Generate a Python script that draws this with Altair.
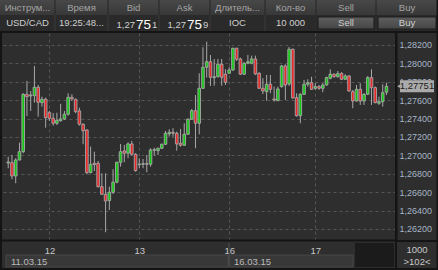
import altair as alt
import pandas as pd

# ---------------- data ----------------
OPEN = [1.26917, 1.26921, 1.26776, 1.26950, 1.27040, 1.27664, 1.27646, 1.27649, 1.27740, 1.27573,
        1.27610, 1.27464, 1.27403, 1.27349, 1.27377, 1.27396, 1.27447, 1.27631, 1.27610, 1.27483,
        1.27338, 1.27276, 1.26812, 1.26914, 1.26914, 1.26660, 1.26577, 1.26508, 1.26599, 1.26708,
        1.26925, 1.27048, 1.27023, 1.27124, 1.27012, 1.26899, 1.26903, 1.26910, 1.26903, 1.27055,
        1.27051, 1.27077, 1.27121, 1.27233, 1.27251, 1.27240, 1.27132, 1.27110, 1.27229, 1.27392,
        1.27486, 1.27349, 1.27729, 1.27958, 1.28018, 1.27845, 1.27855, 1.27990, 1.27882, 1.27892,
        1.27928, 1.28164, 1.28048, 1.27882, 1.28001, 1.28001, 1.28048, 1.27892, 1.27729, 1.27692,
        1.27773, 1.27613, 1.27594, 1.27747, 1.27972, 1.27776, 1.28153, 1.27627, 1.27431, 1.27664,
        1.27773, 1.27790, 1.27729, 1.27747, 1.27729, 1.27765, 1.27838, 1.27882, 1.27855, 1.27892,
        1.27827, 1.27863, 1.27692, 1.27591, 1.27718, 1.27591, 1.27664, 1.27845, 1.27736, 1.27566,
        1.27584, 1.27686]
HIGH = [1.26986, 1.27004, 1.26968, 1.27138, 1.27675, 1.27809, 1.27700, 1.27972, 1.27765, 1.27638,
        1.27627, 1.27483, 1.27461, 1.27464, 1.27559, 1.27483, 1.27675, 1.27664, 1.27615, 1.27518,
        1.27349, 1.27284, 1.27095, 1.27040, 1.26939, 1.26805, 1.26805, 1.26660, 1.26849, 1.26931,
        1.27124, 1.27113, 1.27142, 1.27157, 1.27023, 1.26968, 1.26961, 1.27004, 1.27077, 1.27084,
        1.27084, 1.27127, 1.27265, 1.27284, 1.27295, 1.27258, 1.27287, 1.27349, 1.27403, 1.27504,
        1.27656, 1.27892, 1.28175, 1.28236, 1.28091, 1.28048, 1.28048, 1.28048, 1.27936, 1.27958,
        1.28170, 1.28170, 1.28062, 1.28012, 1.28091, 1.28084, 1.28084, 1.27903, 1.27838, 1.27874,
        1.27874, 1.27747, 1.27747, 1.27983, 1.27990, 1.28178, 1.28162, 1.27675, 1.27675, 1.27820,
        1.27827, 1.27855, 1.27784, 1.27765, 1.27784, 1.27855, 1.27936, 1.27892, 1.27917, 1.27903,
        1.27882, 1.27874, 1.27711, 1.27765, 1.27784, 1.27675, 1.27863, 1.27936, 1.27747, 1.27638,
        1.27773, 1.27790]
LOW = [1.26860, 1.26740, 1.26697, 1.26945, 1.27023, 1.27428, 1.27483, 1.27573, 1.27421, 1.27529,
       1.27301, 1.27374, 1.27323, 1.27330, 1.27366, 1.27385, 1.27431, 1.27594, 1.27458, 1.27323,
       1.27121, 1.26795, 1.26805, 1.26830, 1.26649, 1.26570, 1.26164, 1.26406, 1.26580, 1.26697,
       1.26877, 1.26925, 1.26968, 1.26997, 1.26823, 1.26860, 1.26860, 1.26816, 1.26877, 1.26997,
       1.27004, 1.27070, 1.27113, 1.27203, 1.27203, 1.27051, 1.27095, 1.27102, 1.27222, 1.27385,
       1.27077, 1.27229, 1.27722, 1.27845, 1.27754, 1.27758, 1.27845, 1.27758, 1.27765, 1.27885,
       1.27917, 1.28026, 1.27874, 1.27874, 1.27990, 1.27990, 1.27874, 1.27722, 1.27667, 1.27594,
       1.27675, 1.27584, 1.27591, 1.27736, 1.27602, 1.27754, 1.27618, 1.27421, 1.27349, 1.27656,
       1.27747, 1.27711, 1.27711, 1.27711, 1.27686, 1.27758, 1.27827, 1.27845, 1.27845, 1.27820,
       1.27820, 1.27692, 1.27512, 1.27584, 1.27548, 1.27548, 1.27656, 1.27548, 1.27566, 1.27548,
       1.27529, 1.27656]
CLOSE = [1.26928, 1.26776, 1.26950, 1.27040, 1.27664, 1.27638, 1.27656, 1.27740, 1.27577, 1.27610,
         1.27410, 1.27403, 1.27349, 1.27381, 1.27396, 1.27447, 1.27631, 1.27613, 1.27475, 1.27338,
         1.27268, 1.26812, 1.26903, 1.26899, 1.26660, 1.26577, 1.26504, 1.26599, 1.26708, 1.26925,
         1.27040, 1.27023, 1.27124, 1.27012, 1.26834, 1.26906, 1.26910, 1.26903, 1.27059, 1.27062,
         1.27077, 1.27121, 1.27240, 1.27251, 1.27240, 1.27124, 1.27110, 1.27229, 1.27392, 1.27486,
         1.27349, 1.27729, 1.27958, 1.28018, 1.27849, 1.27855, 1.27990, 1.27849, 1.27795, 1.27928,
         1.28164, 1.28045, 1.27882, 1.28001, 1.28018, 1.28048, 1.27885, 1.27729, 1.27700, 1.27773,
         1.27718, 1.27602, 1.27722, 1.27972, 1.27765, 1.28153, 1.27624, 1.27431, 1.27664, 1.27773,
         1.27790, 1.27718, 1.27747, 1.27729, 1.27765, 1.27845, 1.27882, 1.27855, 1.27888, 1.27827,
         1.27863, 1.27700, 1.27591, 1.27718, 1.27591, 1.27664, 1.27845, 1.27736, 1.27573, 1.27584,
         1.27681, 1.27751]

PRICE_TICKS = [1.262, 1.264, 1.266, 1.268, 1.270, 1.272, 1.274, 1.276, 1.278, 1.280, 1.282]
DAY_START = [11, 35, 59, 82]          # candle index of first hour of each day
DAY_LABELS = ["12", "13", "16", "17"]
DATE_LABELS = ["11.03.15", "16.03.15"]

HEADER_TITLES = ["Инструм...", "Время", "Bid", "Ask", "Длитель...", "Кол-во", "Sell", "Buy"]
ROW_VALUES = ["USD/CAD", "19:25:48...", "", "", "IOC", "10 000", "Sell", "Buy"]
BID_PARTS = ["1,27", "75", "1"]
ASK_PARTS = ["1,27", "75", "9"]
LOT_TEXT = ["1000", ">102<"]

# ---------------- layout / style ----------------
FONT = "Liberation Sans"
W, H = 396, 207
BG = "#2e2e2e"
GRID = "#555555"
DARK = "#141414"
GREEN = "#12c812"
RED = "#e82828"
OUTLINE = "#a8a8a8"
COL_EDGES = [0, 55, 108, 159, 210, 265, 316, 376, 438]

xs = alt.Scale(domain=[-0.86, 102.21], nice=False, zero=False)
ys = alt.Scale(domain=[1.26080, 1.28330], nice=False, zero=False)

df = pd.DataFrame({"i": list(range(len(OPEN))), "open": OPEN, "high": HIGH,
                   "low": LOW, "close": CLOSE})
ONE = pd.DataFrame({"k": [0]})

x_label_expr = " : ".join(f"datum.value == {i} ? '{l}'" for i, l in zip(DAY_START, DAY_LABELS)) + " : ''"

x_axis = alt.Axis(values=DAY_START, labelExpr=x_label_expr, title=None, grid=True,
                  gridColor=GRID, gridDash=[3, 3], gridWidth=1, ticks=False,
                  domainColor=DARK, domainWidth=2, labelColor="#c6c6c6", labelFont=FONT,
                  labelFontSize=9.5, labelPadding=5, labelFlush=False, labelOverlap=False)
y_axis = alt.Axis(orient="right", values=PRICE_TICKS,
                  labelExpr="replace(format(datum.value, '.5f'), '.', ',')", title=None,
                  grid=True, gridColor=GRID, gridDash=[3, 3], gridWidth=1, ticks=False,
                  domainColor=DARK, domainWidth=2, labelColor="#a6b4c6", labelFont=FONT,
                  labelFontSize=9, labelPadding=3, labelFlush=False, labelOverlap=False)


def box(x1, x2, y1, y2, fill, stroke=None):
    kw = {"color": fill}
    if stroke:
        kw["stroke"] = stroke
        kw["strokeWidth"] = 1
    return alt.Chart(ONE).mark_rect(**kw).encode(
        x=alt.value(x1), x2=alt.value(x2), y=alt.value(y1), y2=alt.value(y2))


def vline(x, y1, y2, color, width=1):
    return alt.Chart(ONE).mark_rule(color=color, strokeWidth=width).encode(
        x=alt.value(x), y=alt.value(y1), y2=alt.value(y2))


def label(t, x, y, size=9.5, color="#c8c8c8", align="center", baseline="middle"):
    return alt.Chart(ONE).mark_text(text=t, font=FONT, fontSize=size, color=color,
                                    align=align, baseline=baseline).encode(
        x=alt.value(x), y=alt.value(y))


head_grad = alt.Gradient(gradient="linear", x1=0, x2=0, y1=0, y2=1,
                         stops=[alt.GradientStop(color="#484848", offset=0),
                                alt.GradientStop(color="#383838", offset=1)])
btn_grad = alt.Gradient(gradient="linear", x1=0, x2=0, y1=0, y2=1,
                        stops=[alt.GradientStop(color="#5e5e5e", offset=0),
                               alt.GradientStop(color="#464646", offset=1)])

layers = []
# header
layers.append(alt.Chart(ONE).mark_rect(color=head_grad).encode(
    x=alt.value(0), x2=alt.value(438), y=alt.value(-33), y2=alt.value(-18)))
layers.append(box(0, 438, -18, -2, "#2a2a2a"))
layers.append(box(0, 438, -2, 0, DARK))
for e in COL_EDGES[1:-1]:
    layers.append(vline(e, -33, -18, "#262626"))
    if e < 316:
        layers.append(vline(e, -18, -2, "#3a3a3a"))
layers.append(box(318, 374, -16, -4, btn_grad, "#1c1c1c"))
layers.append(box(378, 436, -16, -4, btn_grad, "#1c1c1c"))
for k, t in enumerate(HEADER_TITLES):
    cx = (COL_EDGES[k] + COL_EDGES[k + 1]) / 2
    layers.append(label(t, cx, -25, color="#a4a4a4"))
for k, t in enumerate(ROW_VALUES):
    if t:
        cx = (COL_EDGES[k] + COL_EDGES[k + 1]) / 2
        layers.append(label(t, cx, -10, color="#cfcfcf"))
for parts, xe in [(BID_PARTS, 135), (ASK_PARTS, 186)]:
    layers.append(label(parts[0], xe, -5, color="#cfcfcf", align="right", baseline="alphabetic"))
    layers.append(label(parts[1], xe + 1, -4, size=13.5, color="#ffffff", align="left", baseline="alphabetic"))
    layers.append(label(parts[2], xe + 17, -5, color="#cfcfcf", align="left", baseline="alphabetic"))

# bottom strip
layers.append(box(6, 228, 222, 234, "#383838", "#474747"))
layers.append(box(229, 353, 222, 234, "#383838", "#474747"))
layers.append(vline(229, 210, 234, "#4e4e4e"))
layers.append(box(355, 394, 210, 234, "#1b1b1b"))
layers.append(label(DATE_LABELS[0], 11, 228.5, color="#bcbcbc", align="left"))
layers.append(label(DATE_LABELS[1], 234, 228.5, color="#bcbcbc", align="left"))
layers.append(box(396, 438, 207, 209, DARK))
layers.append(label(LOT_TEXT[0], 417, 216.5, color="#c8c8c8"))
layers.append(label(LOT_TEXT[1], 417, 228.5, color="#c8c8c8"))

# frame
layers.append(vline(396, -2, 237, DARK, 2))
layers.append(box(0, 438, 235, 237, DARK))
layers.append(box(0, 2, -2, 237, DARK))
layers.append(box(436.5, 438, -33, 237, DARK))

# candles
X = alt.X("i:Q", scale=xs, axis=x_axis)
wicks = alt.Chart(df).mark_rule(color=OUTLINE, strokeWidth=1).encode(
    x=X, y=alt.Y("low:Q", scale=ys, axis=y_axis), y2="high:Q")
bodies = alt.Chart(df).mark_bar(size=2.6, stroke=OUTLINE, strokeWidth=0.9).encode(
    x=X,
    y=alt.Y("open:Q", scale=ys, axis=y_axis),
    y2="close:Q",
    color=alt.condition("datum.close >= datum.open", alt.value(GREEN), alt.value(RED)))

last = df.tail(1)
tag = alt.Chart(last).mark_tick(orient="horizontal", size=34, thickness=12,
                                color="#aaaaaa", opacity=1).encode(
    x=alt.value(417), y=alt.Y("close:Q", scale=ys, axis=y_axis))
arrow = alt.Chart(last).mark_point(shape="triangle-left", size=45, filled=True,
                                   color="#aaaaaa", opacity=1).encode(
    x=alt.value(400), y=alt.Y("close:Q", scale=ys, axis=y_axis))
tag_text = alt.Chart(last).transform_calculate(
    lbl="replace(format(datum.close, '.5f'), '.', ',')"
).mark_text(font=FONT, fontSize=9.5, color="#1c1c1c").encode(
    x=alt.value(417), y=alt.Y("close:Q", scale=ys, axis=y_axis), text="lbl:N")

chart = alt.layer(wicks, bodies, tag, arrow, tag_text, *layers).properties(
    width=W, height=H,
    autosize=alt.AutoSizeParams(type="none"),
    padding={"left": 0, "top": 33, "right": 42, "bottom": 30},
    background=BG,
).configure_view(stroke=None, fill=BG)

chart.save("out.html", embed_options={"renderer": "svg", "actions": False})
